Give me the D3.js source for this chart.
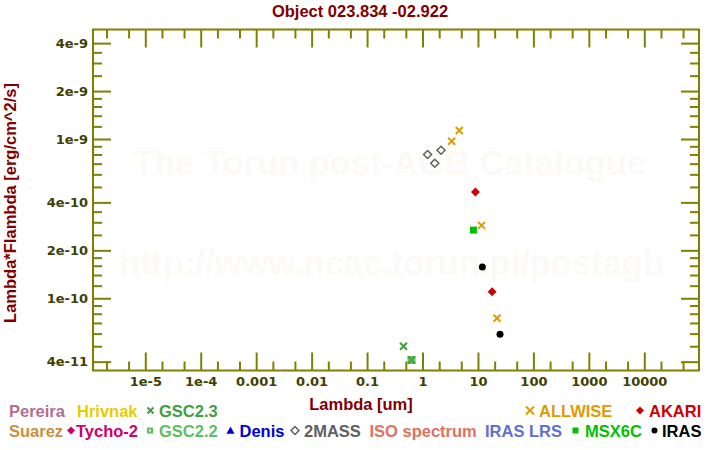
<!DOCTYPE html>
<html>
<head>
<meta charset="utf-8">
<script src="https://cdn.jsdelivr.net/npm/d3@7"></script>
<style>
  html, body { margin: 0; padding: 0; background: #ffffff; }
  svg { display: block; }
</style>
</head>
<body>
<svg id="chart" width="720" height="450"></svg>
<script>
// ---------- data ----------
const chartTitle = "Object 023.834 -02.922";
const xLabel = "Lambda [um]";
const yLabel = "Lambda*Flambda [erg/cm^2/s]";

const xTickValues = [1e-5, 1e-4, 1e-3, 1e-2, 1e-1, 1, 10, 100, 1000, 10000];
const xTickLabels = ["1e-5", "1e-4", "0.001", "0.01", "0.1", "1", "10", "100", "1000", "10000"];
const yTickValues = [4e-11, 1e-10, 2e-10, 4e-10, 1e-9, 2e-9, 4e-9];
const yTickLabels = ["4e-11", "1e-10", "2e-10", "4e-10", "1e-9", "2e-9", "4e-9"];

const allwiseLambda = [3.35, 4.6, 11.6, 22.1];
const allwiseFlux   = [9.67e-10, 1.13e-9, 2.87e-10, 7.5e-11];
const twomassLambda = [1.235, 1.662, 2.159];
const twomassFlux   = [8.0e-10, 7.04e-10, 8.5e-10];
const akariLambda   = [9.0, 18.0];
const akariFlux     = [4.65e-10, 1.1e-10];
const msxLambda     = [8.28];
const msxFlux       = [2.68e-10];
const irasLambda    = [12, 25];
const irasFlux      = [1.57e-10, 5.95e-11];
const gsc22Lambda   = [0.633];
const gsc22Flux     = [4.1e-11];
const gsc23Lambda   = [0.454, 0.633];
const gsc23Flux     = [5.0e-11, 4.1e-11];

const legendNames = ["Pereira", "Hrivnak", "GSC2.3", "ALLWISE", "AKARI",
                     "Suarez", "Tycho-2", "GSC2.2", "Denis", "2MASS",
                     "ISO spectrum", "IRAS LRS", "MSX6C", "IRAS"];

// ---------- styles ----------
const styleOf = {
  "Pereira":      {color: "#b07090", sym: null},
  "Hrivnak":      {color: "#e8cc00", sym: null},
  "GSC2.3":       {color: "#40a040", sym: "cross"},
  "ALLWISE":      {color: "#e09a00", sym: "cross"},
  "AKARI":        {color: "#d00000", sym: "diamondFill"},
  "Suarez":       {color: "#c89040", sym: null},
  "Tycho-2":      {color: "#d0006a", sym: "diamondFill"},
  "GSC2.2":       {color: "#5cc05c", sym: "squareOpen"},
  "Denis":        {color: "#0000d0", sym: "triangle"},
  "2MASS":        {color: "#606060", sym: "diamondOpen"},
  "ISO spectrum": {color: "#e07060", sym: null},
  "IRAS LRS":     {color: "#6070d0", sym: null},
  "MSX6C":        {color: "#00c000", sym: "squareFill"},
  "IRAS":         {color: "#000000", sym: "circle"}
};
// legend layout: [row, markerX, textX]
const legendLayout = {
  "Pereira": [0, null, 9], "Hrivnak": [0, null, 77], "GSC2.3": [0, 150.5, 159],
  "ALLWISE": [0, 530, 539], "AKARI": [0, 640, 649],
  "Suarez": [1, null, 9], "Tycho-2": [1, 71, 76], "GSC2.2": [1, 150, 159],
  "Denis": [1, 230.5, 239.5], "2MASS": [1, 295, 304], "ISO spectrum": [1, null, 369.5],
  "IRAS LRS": [1, null, 485], "MSX6C": [1, 575.5, 585], "IRAS": [1, 654.5, 662]
};

const AXIS = "#808000";
const TICKTXT = "#404000";
const DARKRED = "#800000";
const SANS = "'Liberation Sans', Arial, Helvetica, sans-serif";
const TICKFONT = "'DejaVu Sans', Verdana, sans-serif";

const svg = d3.select("#chart");
const L = 93, R = 699, T = 29.5, B = 370.5;

const x = d3.scaleLog().domain([1.14e-6, 9.7e4]).range([L, R]);
const y = d3.scaleLog().domain([3.52e-11, 4.87e-9]).range([B, T]);

// ---------- watermark ----------
svg.append("text").attr("x", 389.5).attr("y", 175)
  .attr("text-anchor", "middle").attr("font-family", SANS).attr("font-weight", "bold")
  .attr("font-size", 34.5).attr("fill", "#fbfaf4").text("The Torun post-AGB Catalogue");
svg.append("text").attr("x", 391.5).attr("y", 275)
  .attr("text-anchor", "middle").attr("font-family", SANS).attr("font-weight", "bold")
  .attr("font-size", 34.5).attr("fill", "#fbfaf4").text("http://www.ncac.torun.pl/postagb");

// ---------- ticks ----------
function minorTicks(domain, mults) {
  const out = [];
  const lo = Math.floor(Math.log10(domain[0])), hi = Math.ceil(Math.log10(domain[1]));
  for (let e = lo; e <= hi; e++) {
    mults.forEach(m => {
      const v = m * Math.pow(10, e);
      if (v >= domain[0] && v <= domain[1]) out.push(v);
    });
  }
  return out;
}
const xMinor = minorTicks(x.domain(), [2, 5]);
const yMinor = minorTicks(y.domain(), [1.2, 1.4, 1.6, 1.8, 2.5, 3, 3.5, 5, 6, 7, 8, 9]);

const MAJ = 18, MIN = 9;

// bottom axis (ticks pointing up)
const xBottom = d3.axisBottom(x).tickValues(xTickValues).tickSize(-MAJ).tickSizeOuter(0)
  .tickFormat((d, i) => xTickLabels[i]);
const gxb = svg.append("g").attr("transform", `translate(0,${B})`).call(xBottom);
gxb.selectAll(".tick line").attr("stroke", AXIS).attr("stroke-width", 2);
gxb.selectAll(".tick text").attr("fill", TICKTXT).attr("font-family", TICKFONT)
  .attr("font-weight", "bold").attr("font-size", 13).attr("y", 6).attr("dy", "0.71em");
gxb.select(".domain").remove();
const gxbm = svg.append("g").attr("transform", `translate(0,${B})`)
  .call(d3.axisBottom(x).tickValues(xMinor).tickSize(-MIN).tickSizeOuter(0).tickFormat(""));
gxbm.selectAll(".tick line").attr("stroke", AXIS).attr("stroke-width", 2);
gxbm.select(".domain").remove();

// top axis (ticks pointing down)
const gxt = svg.append("g").attr("transform", `translate(0,${T})`)
  .call(d3.axisTop(x).tickValues(xTickValues).tickSize(-MAJ).tickSizeOuter(0).tickFormat(""));
gxt.selectAll(".tick line").attr("stroke", AXIS).attr("stroke-width", 2);
gxt.select(".domain").remove();
const gxtm = svg.append("g").attr("transform", `translate(0,${T})`)
  .call(d3.axisTop(x).tickValues(xMinor).tickSize(-MIN).tickSizeOuter(0).tickFormat(""));
gxtm.selectAll(".tick line").attr("stroke", AXIS).attr("stroke-width", 2);
gxtm.select(".domain").remove();

// left axis (ticks pointing right)
const gyl = svg.append("g").attr("transform", `translate(${L},0)`)
  .call(d3.axisLeft(y).tickValues(yTickValues).tickSize(-MAJ).tickSizeOuter(0)
    .tickFormat((d, i) => yTickLabels[i]));
gyl.selectAll(".tick line").attr("stroke", AXIS).attr("stroke-width", 2);
gyl.selectAll(".tick text").attr("fill", TICKTXT).attr("font-family", TICKFONT)
  .attr("font-weight", "bold").attr("font-size", 13).attr("x", -5);
gyl.select(".domain").remove();
const gylm = svg.append("g").attr("transform", `translate(${L},0)`)
  .call(d3.axisLeft(y).tickValues(yMinor).tickSize(-MIN).tickSizeOuter(0).tickFormat(""));
gylm.selectAll(".tick line").attr("stroke", AXIS).attr("stroke-width", 2);
gylm.select(".domain").remove();

// right axis (ticks pointing left)
const gyr = svg.append("g").attr("transform", `translate(${R},0)`)
  .call(d3.axisRight(y).tickValues(yTickValues).tickSize(-MAJ).tickSizeOuter(0).tickFormat(""));
gyr.selectAll(".tick line").attr("stroke", AXIS).attr("stroke-width", 2);
gyr.select(".domain").remove();
const gyrm = svg.append("g").attr("transform", `translate(${R},0)`)
  .call(d3.axisRight(y).tickValues(yMinor).tickSize(-MIN).tickSizeOuter(0).tickFormat(""));
gyrm.selectAll(".tick line").attr("stroke", AXIS).attr("stroke-width", 2);
gyrm.select(".domain").remove();

// frame
svg.append("rect").attr("x", L).attr("y", T).attr("width", R - L).attr("height", B - T)
  .attr("fill", "none").attr("stroke", AXIS).attr("stroke-width", 2);

// ---------- markers ----------
function drawSymbol(g, sym, cx, cy, color, s) {
  const h = s / 2;
  if (sym === "cross") {
    g.append("path").attr("d", `M${cx - h},${cy - h}L${cx + h},${cy + h}M${cx - h},${cy + h}L${cx + h},${cy - h}`)
      .attr("stroke", color).attr("stroke-width", 2).attr("fill", "none");
  } else if (sym === "diamondFill" || sym === "diamondOpen") {
    const p = g.append("path").attr("d", `M${cx},${cy - h}L${cx + h},${cy}L${cx},${cy + h}L${cx - h},${cy}Z`);
    if (sym === "diamondFill") p.attr("fill", color);
    else p.attr("fill", "none").attr("stroke", color).attr("stroke-width", 1.5);
  } else if (sym === "squareFill") {
    g.append("rect").attr("x", cx - h).attr("y", cy - h).attr("width", s).attr("height", s).attr("fill", color);
  } else if (sym === "squareOpen") {
    g.append("rect").attr("x", cx - h + 1).attr("y", cy - h + 1).attr("width", s - 2).attr("height", s - 2)
      .attr("fill", "none").attr("stroke", color).attr("stroke-width", 2);
  } else if (sym === "circle") {
    g.append("circle").attr("cx", cx).attr("cy", cy).attr("r", h).attr("fill", color);
  } else if (sym === "triangle") {
    g.append("path").attr("d", `M${cx},${cy - h}L${cx + h},${cy + h * 0.8}L${cx - h},${cy + h * 0.8}Z`).attr("fill", color);
  }
}

const series = [
  {name: "GSC2.2", lam: gsc22Lambda, f: gsc22Flux, size: 8},
  {name: "GSC2.3", lam: gsc23Lambda, f: gsc23Flux, size: 7},
  {name: "2MASS", lam: twomassLambda, f: twomassFlux, size: 8},
  {name: "MSX6C", lam: msxLambda, f: msxFlux, size: 7},
  {name: "AKARI", lam: akariLambda, f: akariFlux, size: 9},
  {name: "ALLWISE", lam: allwiseLambda, f: allwiseFlux, size: 7},
  {name: "IRAS", lam: irasLambda, f: irasFlux, size: 7}
];
const gp = svg.append("g");
series.forEach(s => {
  const st = styleOf[s.name];
  s.lam.forEach((l, i) => {
    drawSymbol(gp, st.sym, x(l), y(s.f[i]), st.color, s.size);
  });
});

// ---------- title and axis labels ----------
svg.append("text").attr("x", 360).attr("y", 17).attr("text-anchor", "middle")
  .attr("font-family", SANS).attr("font-weight", "bold").attr("font-size", 16.5)
  .attr("fill", DARKRED).text(chartTitle);
svg.append("text").attr("x", 361).attr("y", 410).attr("text-anchor", "middle")
  .attr("font-family", SANS).attr("font-weight", "bold").attr("font-size", 16.5)
  .attr("fill", DARKRED).text(xLabel);
svg.append("text").attr("transform", "translate(15.5,203) rotate(-90)").attr("text-anchor", "middle")
  .attr("font-family", SANS).attr("font-weight", "bold").attr("font-size", 16.5)
  .attr("fill", DARKRED).text(yLabel);

// ---------- legend ----------
const rowBase = [416.5, 436.5];
const gl = svg.append("g");
legendNames.forEach(n => {
  const [row, mx, tx] = legendLayout[n];
  const st = styleOf[n];
  const by = rowBase[row];
  if (mx !== null) {
    let sz = 8;
    if (n === "GSC2.3") sz = 6;
    if (st.sym === "squareOpen" || st.sym === "circle" || st.sym === "squareFill") sz = 6;
    drawSymbol(gl, st.sym, mx, by - 6, st.color, sz);
  }
  gl.append("text").attr("x", tx).attr("y", by).attr("font-family", SANS)
    .attr("font-weight", "bold").attr("font-size", 16.5).attr("fill", st.color).text(n);
});
</script>
</body>
</html>
